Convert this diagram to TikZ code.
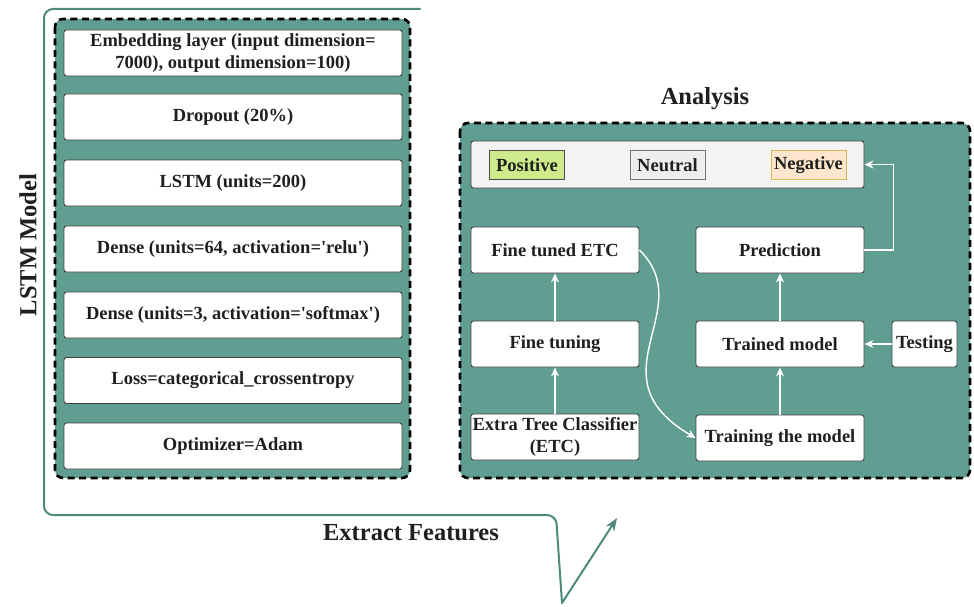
\documentclass[tikz,border=0pt]{standalone}
\usepackage{fontspec}
\setmainfont{Liberation Serif}
\usetikzlibrary{arrows.meta}
\definecolor{teal1}{HTML}{5F9E91}
\definecolor{tealline}{HTML}{4D8A7D}
\definecolor{posg}{HTML}{CDEB8B}
\definecolor{neug}{HTML}{EEEEEE}
\definecolor{negf}{HTML}{FFE6CC}
\definecolor{negb}{HTML}{D6B656}
\definecolor{topbg}{HTML}{F3F3F3}
\begin{document}
\begin{tikzpicture}[x=1pt,y=-1pt,
 panel/.style={draw=black, fill=teal1, line width=2.6pt, dash pattern=on 7pt off 4.5pt, rounded corners=8pt},
 box/.style={draw=black!75, fill=white, line width=0.9pt, rounded corners=2.5pt, inner sep=1pt, align=center, font=\fontsize{18.5}{21.5}\selectfont\bfseries, text=black!88, minimum height=46},
 lbox/.style={box, minimum width=338},
 rbox/.style={box, minimum width=168},
 tag/.style={line width=0.9pt, inner sep=1pt, minimum width=75, minimum height=29, font=\fontsize{18.5}{21.5}\selectfont\bfseries, text=black!88},
 big/.style={font=\fontsize{24.5}{28}\selectfont\bfseries, text=black!88},
 warrow/.style={draw=white, line width=1.4pt, -{Stealth[length=9pt,width=8pt]}},
 tline/.style={draw=tealline, line width=2pt, line cap=round, line join=round},
]
\useasboundingbox (0,0) rectangle (974,607);

% outer teal line
\coordinate (o1) at (420,9);
\coordinate (o2) at (44,9);
\coordinate (o3) at (44,515);
\coordinate (o4) at (556,515);
\coordinate (o5) at (562,603);
\coordinate (o6) at (617,518);
\draw[tline, rounded corners=9pt] (o1) -- (o2) -- (o3) -- (o4) -- (o5);
\draw[tline, -{Stealth[length=13pt,width=10pt]}] (o5) -- (o6);

% left panel
\draw[panel] (55,19) rectangle (410,478);
\node[lbox] (emb) at (233,53) {Embedding layer (input dimension=\\7000), output dimension=100)};
\node[lbox] (drop) at (233,117) {Dropout (20\%)};
\node[lbox] (lstm) at (233,183) {LSTM (units=200)};
\node[lbox] (d1) at (233,249) {Dense (units=64, activation=\textquotesingle relu\textquotesingle)};
\node[lbox] (d2) at (233,315) {Dense (units=3, activation=\textquotesingle softmax\textquotesingle)};
\node[lbox] (loss) at (233,380.5) {Loss=categorical\_crossentropy};
\node[lbox] (opt) at (233,446) {Optimizer=Adam};

\node[big, rotate=90] (lstmlab) at (28,245) {LSTM Model};
\node[big] (extract) at (411,533) {Extract Features};
\node[big] (analysis) at (705,99) {Analysis};

% right panel
\draw[panel] (460,123) rectangle (970,478);
\node[box, fill=topbg, minimum width=393, minimum height=47] (top) at (667.5,164.5) {};
\node[tag, draw=black!70, fill=posg] (pos) at (527,165) {Positive};
\node[tag, draw=black!55, fill=neug] (neu) at (667.5,165) {Neutral};
\node[tag, draw=negb, fill=negf] (neg) at (808.5,165) {Negative};

\node[rbox] (fte) at (555,250) {Fine tuned ETC};
\node[rbox] (pred) at (780,250) {Prediction};
\node[rbox] (ftun) at (555,344) {Fine tuning};
\node[rbox] (trained) at (780,344) {Trained model};
\node[box, minimum width=65] (test) at (924.5,344) {Testing};
\node[rbox] (etc) at (555,437) {Extra Tree Classifier\\(ETC)};
\node[rbox] (train) at (780,438) {Training the model};

\draw[warrow] (etc) -- (ftun);
\draw[warrow] (ftun) -- (fte);
\draw[warrow] (train) -- (trained);
\draw[warrow] (trained) -- (pred);
\draw[warrow] (test) -- (trained);
\draw[warrow] (pred.east) -- ++(29,0) |- (top.east);
\draw[warrow] (fte.east) .. controls (700,310) and (590,376) .. (train.west);
\end{tikzpicture}
\end{document}
